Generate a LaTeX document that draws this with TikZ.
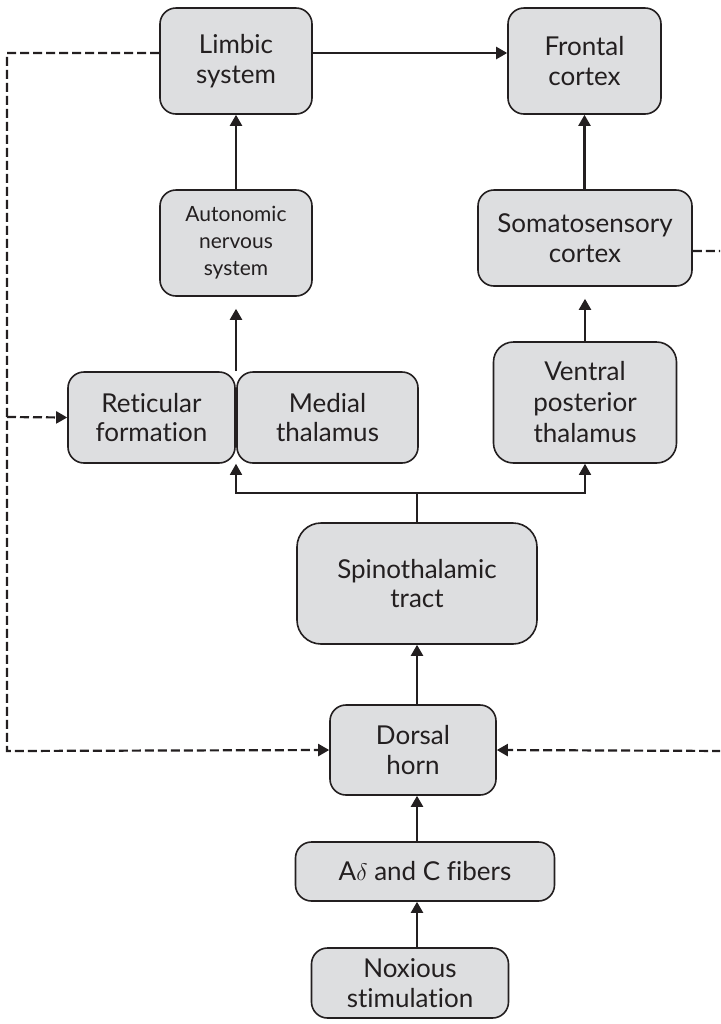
\documentclass[tikz,border=0pt]{standalone}
\usepackage{fontspec}
\setmainfont{Lato}[Ligatures={NoCommon}]
\usetikzlibrary{arrows.meta}
\definecolor{boxgray}{RGB}{221,222,224}
\definecolor{inkgray}{RGB}{35,31,32}

\begin{document}
\begin{tikzpicture}[x=0.5pt,y=-0.5pt,color=inkgray,>={Triangle[length=5.5pt,width=6pt]}]
    \tikzstyle{stage} = [rectangle, rounded corners=8pt, draw=inkgray, line width=0.8pt, fill=boxgray, align=center, inner sep=0pt, font=\fontsize{13}{14.8}\selectfont]
    \tikzstyle{flow} = [->, line width=1.1pt]
    \tikzstyle{feedback} = [->, dash pattern=on 4.5pt off 2pt, line width=1.1pt]

    \useasboundingbox (0,0) rectangle (720,1024);
    \clip (0,0) rectangle (720,1024);

    %%% DRAW THE NODES
    \node[stage, minimum width=76pt, minimum height=53pt] (limbic) at (236,61) {Limbic\\system};
    \node[stage, minimum width=76.5pt, minimum height=53pt] (frontal) at (584.5,61) {Frontal\\cortex};
    \node[stage, minimum width=76pt, minimum height=53pt, font=\fontsize{10.5}{13.5}\selectfont] (auto) at (236,243) {Autonomic\\nervous\\system};
    \node[stage, minimum width=107pt, minimum height=48pt] (soma) at (585,238) {Somatosensory\\cortex};
    \node[stage, minimum width=83.5pt, minimum height=45.5pt] (retic) at (151.5,417.5) {Reticular\\formation};
    \node[stage, minimum width=90.5pt, minimum height=45.5pt] (medial) at (327.5,417.5) {Medial\\thalamus};
    \node[stage, minimum width=91.5pt, minimum height=60.5pt, rounded corners=10pt, font=\fontsize{13}{15.5}\selectfont] (ventral) at (585,402.5) {Ventral\\posterior\\thalamus};
    \node[stage, minimum width=120pt, minimum height=60.5pt, rounded corners=12pt] (tract) at (417,583.5) {Spinothalamic\\tract};
    \node[stage, minimum width=83pt, minimum height=45pt] (horn) at (413,750) {Dorsal\\horn};
    \node[stage, minimum width=129.5pt, minimum height=29.5pt] (fibers) at (425,871.5) {A$\delta$ and C fibers};
    \node[stage, minimum width=98.5pt, minimum height=35pt] (noxious) at (410,983) {Noxious\\stimulation};

    \coordinate (split) at (417,493);
    \coordinate (lefttop) at (7,53);
    \coordinate (leftmid) at (7,417);
    \coordinate (leftbot) at (7,751);
    \coordinate (righttop) at (730,251);
    \coordinate (rightbot) at (730,751);

    %%% DRAW THE PATHS
    \draw[flow] (tract.south |- noxious.north) -- (tract.south |- fibers.south);
    \draw[flow] (tract.south |- fibers.north) -- (tract.south |- horn.south);
    \draw[flow] (tract.south |- horn.north) -- (tract.south);
    \draw[line width=0.8pt] (tract.north) -- (split);
    \draw[line width=0.8pt,->] (split) -| (auto.south |- retic.south);
    \draw[line width=0.8pt,->] (split) -| (ventral.south);
    \draw[flow, shorten >=6pt] (auto.south |- retic.north) -- (auto.south);
    \draw[flow, shorten >=6pt] (ventral.north) -- (soma.south);
    \draw[flow] (auto.north) -- (limbic.south);
    \draw[flow] (soma.north -| frontal.south) -- (frontal.south);
    \draw[flow] ([yshift=4pt]limbic.east) -- ([yshift=4pt]frontal.west);

    %%% FEEDBACK
    \draw[feedback] ([yshift=4pt]limbic.west) -- (lefttop) -- (leftbot) -- (horn.west);
    \draw[feedback] (leftmid) -- (retic.west);
    \draw[feedback] ([yshift=-6.5pt]soma.east) -- (righttop) -- (rightbot) -- (horn.east);

\end{tikzpicture}
\end{document}
